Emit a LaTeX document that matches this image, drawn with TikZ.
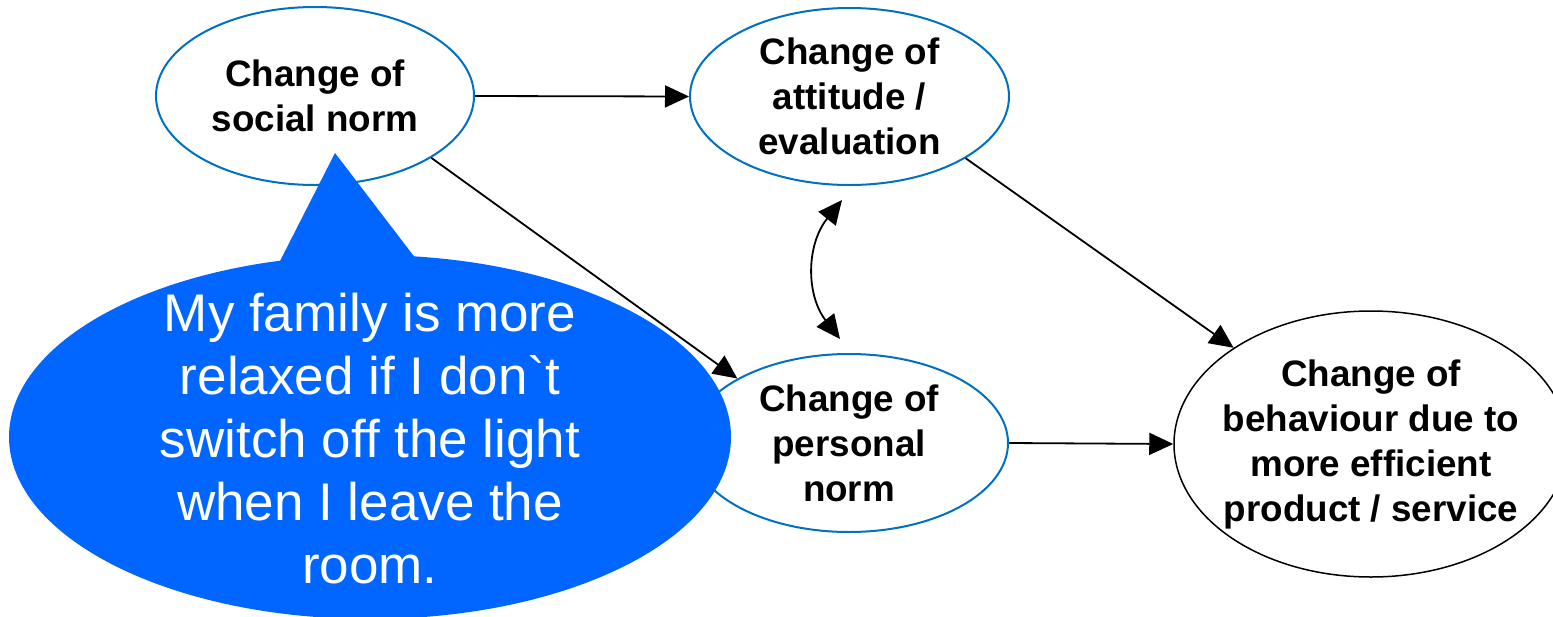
\documentclass[tikz,border=0pt]{standalone}
\usepackage{fontspec}
\setmainfont{Liberation Sans}
\newfontfamily\sayfont{Liberation Sans}
\usetikzlibrary{arrows.meta,shapes.geometric}
\definecolor{outlineblue}{RGB}{0,112,192}
\definecolor{bubbleblue}{RGB}{0,102,255}

\begin{document}
\begin{tikzpicture}[x=0.5pt,y=-0.5pt,
  state/.style={ellipse, draw=outlineblue, line width=1pt, fill=white,
    inner sep=0pt, align=center,
    font=\bfseries\fontsize{18.4}{22.5}\selectfont},
  link/.style={line width=0.9pt, -{Triangle[length=12pt,width=11pt]}},
  twoway/.style={line width=0.9pt, {Triangle[length=12pt,width=11pt]}-{Triangle[length=12pt,width=11pt]}},
]
\useasboundingbox (0,0) rectangle (1553,616);

% the four stages
\node[state, minimum width=159pt, minimum height=89pt] (soc) at (315,96) {Change of\\social norm};
\node[state, minimum width=159.5pt, minimum height=88.5pt] (att) at (849.5,96.5) {Change of\\attitude /\\evaluation};
\node[state, minimum width=159pt, minimum height=89pt] (pers) at (849,443) {Change of\\personal\\norm};
\node[state, draw=black, line width=0.75pt, inner xsep=-25pt, minimum width=197pt, minimum height=133pt] (beh) at (1371,444) {Change of\\behaviour due to\\more efficient\\product / service};

% speech bubble
\fill[bubbleblue] (370,437) ellipse [x radius=180.5pt, y radius=91pt];
\fill[bubbleblue] (335,153) -- (416,259) -- (370,300) -- (279,263) -- cycle;
\node[text=white, align=center, font=\sayfont\fontsize{26.5}{31.5}\selectfont] (say) at (370,439)
  {My family is more\\relaxed if I don`t\\switch off the light\\when I leave the\\room.};

% influences
\draw[link] (soc.east) -- (att.west);
\draw[link] (soc.-28.8) -- (pers.150.6);
\draw[link] (att.-28.7) -- (beh.145.6);
\draw[link] (pers.east) -- (beh.west);

\coordinate (bt) at (842,200);
\coordinate (bb) at (840,339);
\draw[twoway] (bt) .. controls (806,245) and (806,295) .. (bb);
\end{tikzpicture}
\end{document}
